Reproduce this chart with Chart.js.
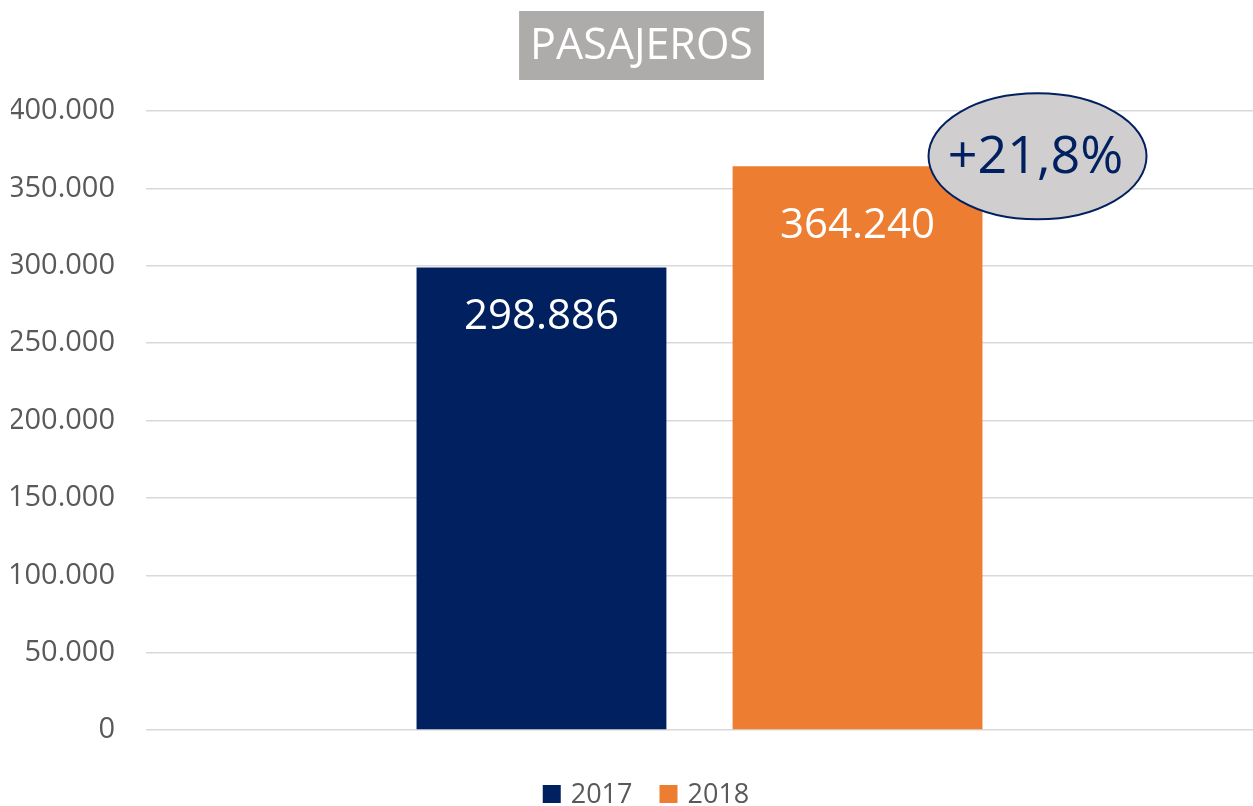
<!DOCTYPE html>
<html lang="es">

<head>
    <meta charset="UTF-8">
    <meta name="viewport" content="width=device-width, initial-scale=1.0">
    <script src="https://cdn.jsdelivr.net/npm/chart.js"></script>
    <title>Pasajeros</title>
    <style>
        html, body { margin: 0; padding: 0; background: #fff; }
        .wrap { width: 1253px; height: 806px; }
    </style>
</head>

<body>
    <div class="wrap">
        <canvas id="chart-pax"></canvas>
    </div>
</body>

</html>

<script>
    // datos
    const title = 'PASAJEROS';
    const categories = ['Pasajeros'];
    const years = ['2017', '2018'];
    const pax2017 = [298886];
    const pax2018 = [364240];
    const growthLabel = '+21,8%';
    const yTicks = [0, 50000, 100000, 150000, 200000, 250000, 300000, 350000, 400000];

    const FONT = "'Open Sans', 'DejaVu Sans', sans-serif";
    const navy = '#002060';
    const orange = '#ED7D31';
    const gray = '#595959';

    const fmt = v => Math.round(v).toString().replace(/\B(?=(\d{3})+(?!\d))/g, '.');

    // titulo con fondo gris
    const titleBox = {
        id: 'titleBox',
        afterDraw(chart) {
            const c = chart.ctx;
            c.save();
            c.font = '43px ' + FONT;
            const w = c.measureText(title).width + 22;
            const cx = 641.5, top = 11, h = 69;
            c.fillStyle = '#AEABAB';
            c.fillRect(cx - w / 2, top, w, h);
            c.fillStyle = '#fff';
            c.textAlign = 'center';
            c.textBaseline = 'middle';
            c.fillText(title, cx, top + h / 2 + 1);
            c.restore();
        }
    };

    // etiquetas de valor dentro de las barras
    const barLabels = {
        id: 'barLabels',
        afterDatasetsDraw(chart) {
            const c = chart.ctx;
            const offsets = [50, 60];
            c.save();
            c.font = '42px ' + FONT;
            c.fillStyle = '#fff';
            c.textAlign = 'center';
            c.textBaseline = 'middle';
            chart.data.datasets.forEach((ds, i) => {
                chart.getDatasetMeta(i).data.forEach((bar, j) => {
                    c.fillText(fmt(ds.data[j]), bar.x, bar.y + offsets[i]);
                });
            });
            c.restore();
        }
    };

    // elipse con el crecimiento
    const growthBubble = {
        id: 'growthBubble',
        afterDatasetsDraw(chart) {
            const bar = chart.getDatasetMeta(1).data[0];
            const c = chart.ctx;
            const cx = bar.x + 180, cy = bar.y - 10;
            c.save();
            c.beginPath();
            c.ellipse(cx, cy, 109, 63, 0, 0, Math.PI * 2);
            c.fillStyle = '#D0CECE';
            c.fill();
            c.lineWidth = 2;
            c.strokeStyle = navy;
            c.stroke();
            c.font = '52px ' + FONT;
            c.fillStyle = navy;
            c.textAlign = 'center';
            c.textBaseline = 'middle';
            c.fillText(growthLabel, cx - 2, cy + 2);
            c.restore();
        }
    };

    // leyenda abajo
    const bottomLegend = {
        id: 'bottomLegend',
        afterDraw(chart) {
            const c = chart.ctx;
            const box = 18, gapText = 10, gapItem = 27;
            c.save();
            c.font = '27px ' + FONT;
            const items = chart.data.datasets.map(ds => ({
                label: ds.label, color: ds.backgroundColor, w: c.measureText(ds.label).width
            }));
            let total = items.reduce((s, it) => s + box + gapText + it.w, 0) + gapItem * (items.length - 1);
            let x = 646 - total / 2;
            const y = 794;
            c.textBaseline = 'middle';
            items.forEach(it => {
                c.fillStyle = it.color;
                c.fillRect(x, y - box / 2, box, box);
                x += box + gapText;
                c.fillStyle = gray;
                c.fillText(it.label, x, y + 1);
                x += it.w + gapItem;
            });
            c.restore();
        }
    };

    const ctxPax = document.getElementById('chart-pax');

    new Chart(ctxPax, {
        type: 'bar',
        data: {
            labels: categories,
            datasets: [{
                label: years[0],
                data: pax2017,
                backgroundColor: navy,
                borderWidth: 0
            },
            {
                label: years[1],
                data: pax2018,
                backgroundColor: orange,
                borderWidth: 0
            }]
        },
        options: {
            responsive: true,
            maintainAspectRatio: false,
            animation: false,
            categoryPercentage: 0.571,
            barPercentage: 0.7906,
            layout: {
                padding: { top: 111, bottom: 76, left: 11, right: -5 }
            },
            plugins: {
                legend: { display: false },
                title: { display: false },
                tooltip: { enabled: false }
            },
            scales: {
                x: {
                    display: false
                },
                y: {
                    min: 0,
                    max: 400000,
                    afterFit: s => { s.width = 135; },
                    afterBuildTicks: s => { s.ticks = yTicks.map(v => ({ value: v })); },
                    border: { display: false },
                    grid: { color: '#D9D9D9', lineWidth: 1.5, drawTicks: false },
                    ticks: {
                        padding: 31,
                        color: gray,
                        font: { family: FONT, size: 29 },
                        callback: v => fmt(v)
                    }
                }
            }
        },
        plugins: [titleBox, barLabels, growthBubble, bottomLegend]
    });
</script>
